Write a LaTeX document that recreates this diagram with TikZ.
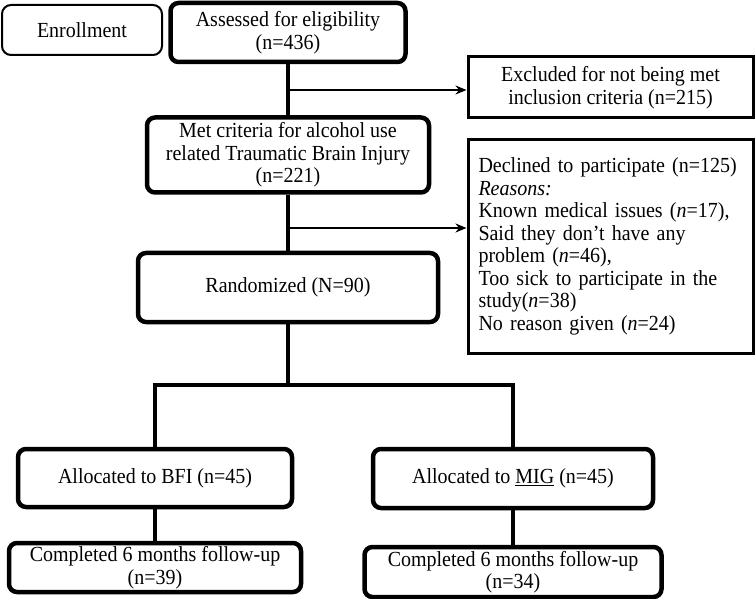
\documentclass[tikz,border=0pt]{standalone}
\usepackage{fontspec}
\setmainfont[FakeStretch=0.93]{Liberation Serif}
\usepackage{tikz}
\usetikzlibrary{arrows.meta}

\begin{document}
\begin{tikzpicture}[x=1pt, y=-1pt,
        every node/.style={font=\fontsize{21.5}{22.5}\selectfont, align=center, inner sep=2pt},
        thickbox/.style={draw, line width=4.5pt, rounded corners=8pt},
        thinbox/.style={draw, line width=3pt},
        labelbox/.style={draw, line width=2pt, rounded corners=9pt},
        trunk/.style={line width=4.5pt},
        side/.style={line width=2.5pt, -{Stealth[length=11pt, width=9pt]}}]
        \fill[white] (0,0) rectangle (756,599);
        \useasboundingbox (0,0) rectangle (756,599);

        \node[labelbox, minimum width=160pt, minimum height=50pt] (enroll) at (82,30) {Enrollment};
        \node[thickbox, minimum width=235pt, minimum height=59pt] (assess) at (288,32.5) {Assessed for eligibility\\(n=436)};
        \node[thinbox, minimum width=285pt, minimum height=61pt] (excl) at (610.5,87.5) {Excluded for not being met\\inclusion criteria (n=215)};
        \node[thickbox, minimum width=282pt, minimum height=75pt] (met) at (288,155) {Met criteria for alcohol use\\related Traumatic Brain Injury\\(n=221)};
        \node[thinbox, minimum width=285pt, minimum height=213pt, text width=264pt, align=left] (decl) at (610.5,246.5) {Declined to participate (n=125)\\\textit{Reasons:}\\Known medical issues (\textit{n}=17),\\Said they don’t have any\\problem (\textit{n}=46),\\Too sick to participate in the\\study(\textit{n}=38)\\No reason given (\textit{n}=24)};
        \node[thickbox, minimum width=300pt, minimum height=69pt] (rand) at (288,287.5) {Randomized (N=90)};

        \node[thickbox, minimum width=274pt, minimum height=58pt] (bfi) at (155,478) {Allocated to BFI (n=45)};
        \node[thickbox, minimum width=280pt, minimum height=59pt] (mig) at (513,478.5) {Allocated to \underline{MIG} (n=45)};
        \node[thickbox, minimum width=292pt, minimum height=49pt] (bficomp) at (155,567.5) {Completed 6 months follow-up\\(n=39)};
        \node[thickbox, minimum width=297pt, minimum height=50pt] (migcomp) at (513,572) {Completed 6 months follow-up\\(n=34)};

        \coordinate (exclsplit) at (288,90);
        \coordinate (declsplit) at (288,228);
        \coordinate (randsplit) at (288,385);

        \draw[trunk] (assess.south) -- (met.north);
        \draw[trunk] (met.south) -- (rand.north);
        \draw[side] (exclsplit) -- (exclsplit -| excl.west);
        \draw[side] (declsplit) -- (declsplit -| decl.west);
        \draw[trunk] (rand.south) -- (randsplit);
        \draw[trunk] (bfi.north) |- (randsplit) -| (mig.north);
        \draw[trunk] (bfi.south) -- (bficomp.north);
        \draw[trunk] (mig.south) -- (migcomp.north);
    \end{tikzpicture}
\end{document}
